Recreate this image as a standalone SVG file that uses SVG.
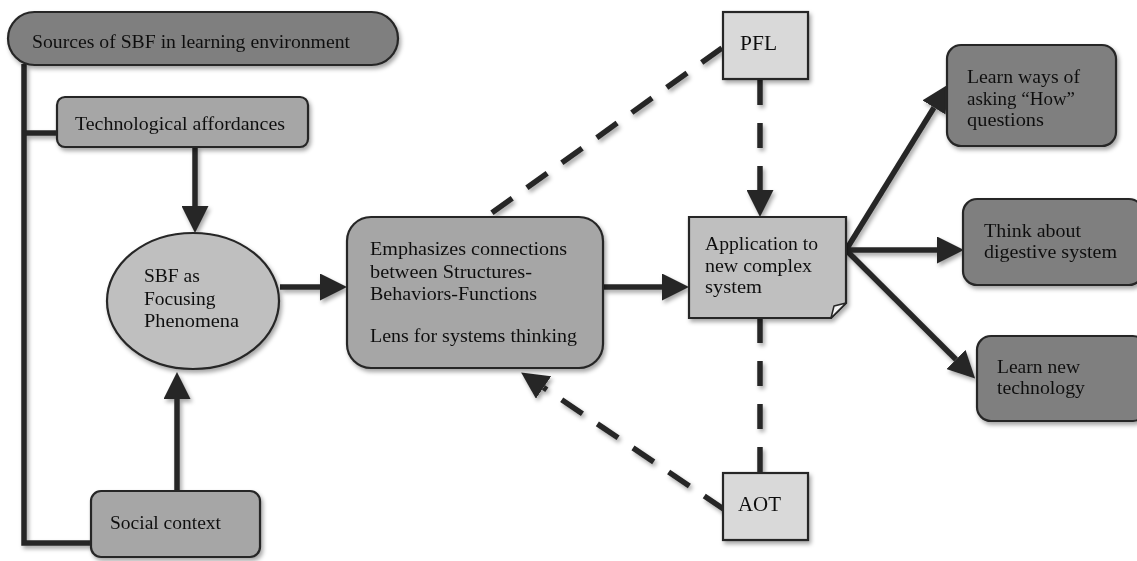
<svg xmlns="http://www.w3.org/2000/svg" width="1137" height="561" viewBox="0 0 1137 561">
<defs>
<filter id="sh" x="-10%" y="-10%" width="130%" height="140%">
<feDropShadow dx="2" dy="3" stdDeviation="2" flood-color="#000" flood-opacity="0.35"/>
</filter>
<marker id="ah" markerUnits="userSpaceOnUse" markerWidth="27" markerHeight="27" refX="0" refY="13.5" orient="auto" viewBox="0 0 27 27">
<path d="M0,0 L27,13.5 L0,27 Z" fill="#262626"/>
</marker>
</defs>
<style>
.t{font-family:"Liberation Serif","Times New Roman",serif;font-size:19.5px;fill:#111;}
.big{font-size:22px;}
.n{stroke:#262626;stroke-width:2.2;}
.dk{fill:#7f7f7f;}
.md{fill:#a6a6a6;}
.lt{fill:#bfbfbf;}
.xl{fill:#d9d9d9;}
.c{fill:none;stroke:#262626;stroke-width:5.5;}
.d{stroke-dasharray:25 18;}
</style>
<rect width="1137" height="561" fill="#fff"/>

<g id="connectors" filter="url(#sh)">
<polyline class="c" points="24,64 24,543 92,543"/>
<line class="c" x1="24" y1="133" x2="58" y2="133"/>
<line class="c" x1="195" y1="147" x2="195" y2="206" marker-end="url(#ah)"/>
<line class="c" x1="177" y1="491" x2="177" y2="399" marker-end="url(#ah)"/>
<line class="c" x1="280" y1="287" x2="320" y2="287" marker-end="url(#ah)"/>
<line class="c" x1="603" y1="287" x2="662" y2="287" marker-end="url(#ah)"/>
<line class="c d" x1="760" y1="80" x2="760" y2="190" marker-end="url(#ah)"/>
<line class="c d" x1="722" y1="48" x2="486" y2="217"/>
<line class="c d" x1="760" y1="318" x2="760" y2="473"/>
<line class="c d" x1="725" y1="510" x2="543.5" y2="387.5" marker-end="url(#ah)"/>
<line class="c" x1="846" y1="250" x2="934" y2="107.5" marker-end="url(#ah)"/>
<line class="c" x1="846" y1="250" x2="937" y2="250" marker-end="url(#ah)"/>
<line class="c" x1="846" y1="250" x2="956" y2="359.5" marker-end="url(#ah)"/>
</g>

<g id="sources" filter="url(#sh)">
<rect class="n dk" x="8" y="12" width="390" height="53" rx="26.5"/>
<text class="t" x="32" y="48" textLength="318" lengthAdjust="spacingAndGlyphs">Sources of SBF in learning environment</text>
</g>

<g id="tech" filter="url(#sh)">
<rect class="n md" x="57" y="97" width="251" height="50" rx="8"/>
<text class="t" x="75" y="130" textLength="210" lengthAdjust="spacingAndGlyphs">Technological affordances</text>
</g>

<g id="sbf" filter="url(#sh)">
<ellipse class="n lt" cx="193" cy="301" rx="86" ry="68"/>
<text class="t" x="144" y="282">SBF as</text>
<text class="t" x="144" y="305">Focusing</text>
<text class="t" x="144" y="327" textLength="95" lengthAdjust="spacingAndGlyphs">Phenomena</text>
</g>

<g id="social" filter="url(#sh)">
<rect class="n md" x="91" y="491" width="169" height="66" rx="10"/>
<text class="t" x="110" y="529" textLength="111" lengthAdjust="spacingAndGlyphs">Social context</text>
</g>

<g id="emph" filter="url(#sh)">
<rect class="n md" x="347" y="217" width="256" height="151" rx="24"/>
<text class="t" x="370" y="255" textLength="197" lengthAdjust="spacingAndGlyphs">Emphasizes connections</text>
<text class="t" x="370" y="278" textLength="162" lengthAdjust="spacingAndGlyphs">between Structures-</text>
<text class="t" x="370" y="300" textLength="167" lengthAdjust="spacingAndGlyphs">Behaviors-Functions</text>
<text class="t" x="370" y="342" textLength="207" lengthAdjust="spacingAndGlyphs">Lens for systems thinking</text>
</g>

<g id="application" filter="url(#sh)">
<path class="n lt" d="M689,217 H846 V303 L831,318 H689 Z"/>
<path d="M846,303 L834,306 L831,318 Z" fill="#f2f2f2" stroke="#262626" stroke-width="1.5" stroke-linejoin="round"/>
<text class="t" x="705" y="250" textLength="113" lengthAdjust="spacingAndGlyphs">Application to</text>
<text class="t" x="705" y="272" textLength="107" lengthAdjust="spacingAndGlyphs">new complex</text>
<text class="t" x="705" y="293" textLength="57" lengthAdjust="spacingAndGlyphs">system</text>
</g>

<g id="pfl" filter="url(#sh)">
<rect class="n xl" x="723" y="12" width="85" height="67"/>
<text class="t big" x="740" y="50" textLength="37" lengthAdjust="spacingAndGlyphs">PFL</text>
</g>

<g id="aot" filter="url(#sh)">
<rect class="n xl" x="723" y="473" width="85" height="67"/>
<text class="t big" x="738" y="511" textLength="43" lengthAdjust="spacingAndGlyphs">AOT</text>
</g>

<g id="learn-ways" filter="url(#sh)">
<rect class="n dk" x="947" y="45" width="169" height="101" rx="14"/>
<text class="t" x="967" y="83" textLength="113" lengthAdjust="spacingAndGlyphs">Learn ways of</text>
<text class="t" x="967" y="105" textLength="108" lengthAdjust="spacingAndGlyphs">asking “How”</text>
<text class="t" x="967" y="126" textLength="77" lengthAdjust="spacingAndGlyphs">questions</text>
</g>

<g id="think" filter="url(#sh)">
<rect class="n dk" x="963" y="199" width="180" height="86" rx="14"/>
<text class="t" x="984" y="237" textLength="97" lengthAdjust="spacingAndGlyphs">Think about</text>
<text class="t" x="984" y="258" textLength="133" lengthAdjust="spacingAndGlyphs">digestive system</text>
</g>

<g id="learn-new" filter="url(#sh)">
<rect class="n dk" x="977" y="336" width="170" height="85" rx="14"/>
<text class="t" x="997" y="373" textLength="83" lengthAdjust="spacingAndGlyphs">Learn new</text>
<text class="t" x="997" y="394" textLength="88" lengthAdjust="spacingAndGlyphs">technology</text>
</g>
</svg>
